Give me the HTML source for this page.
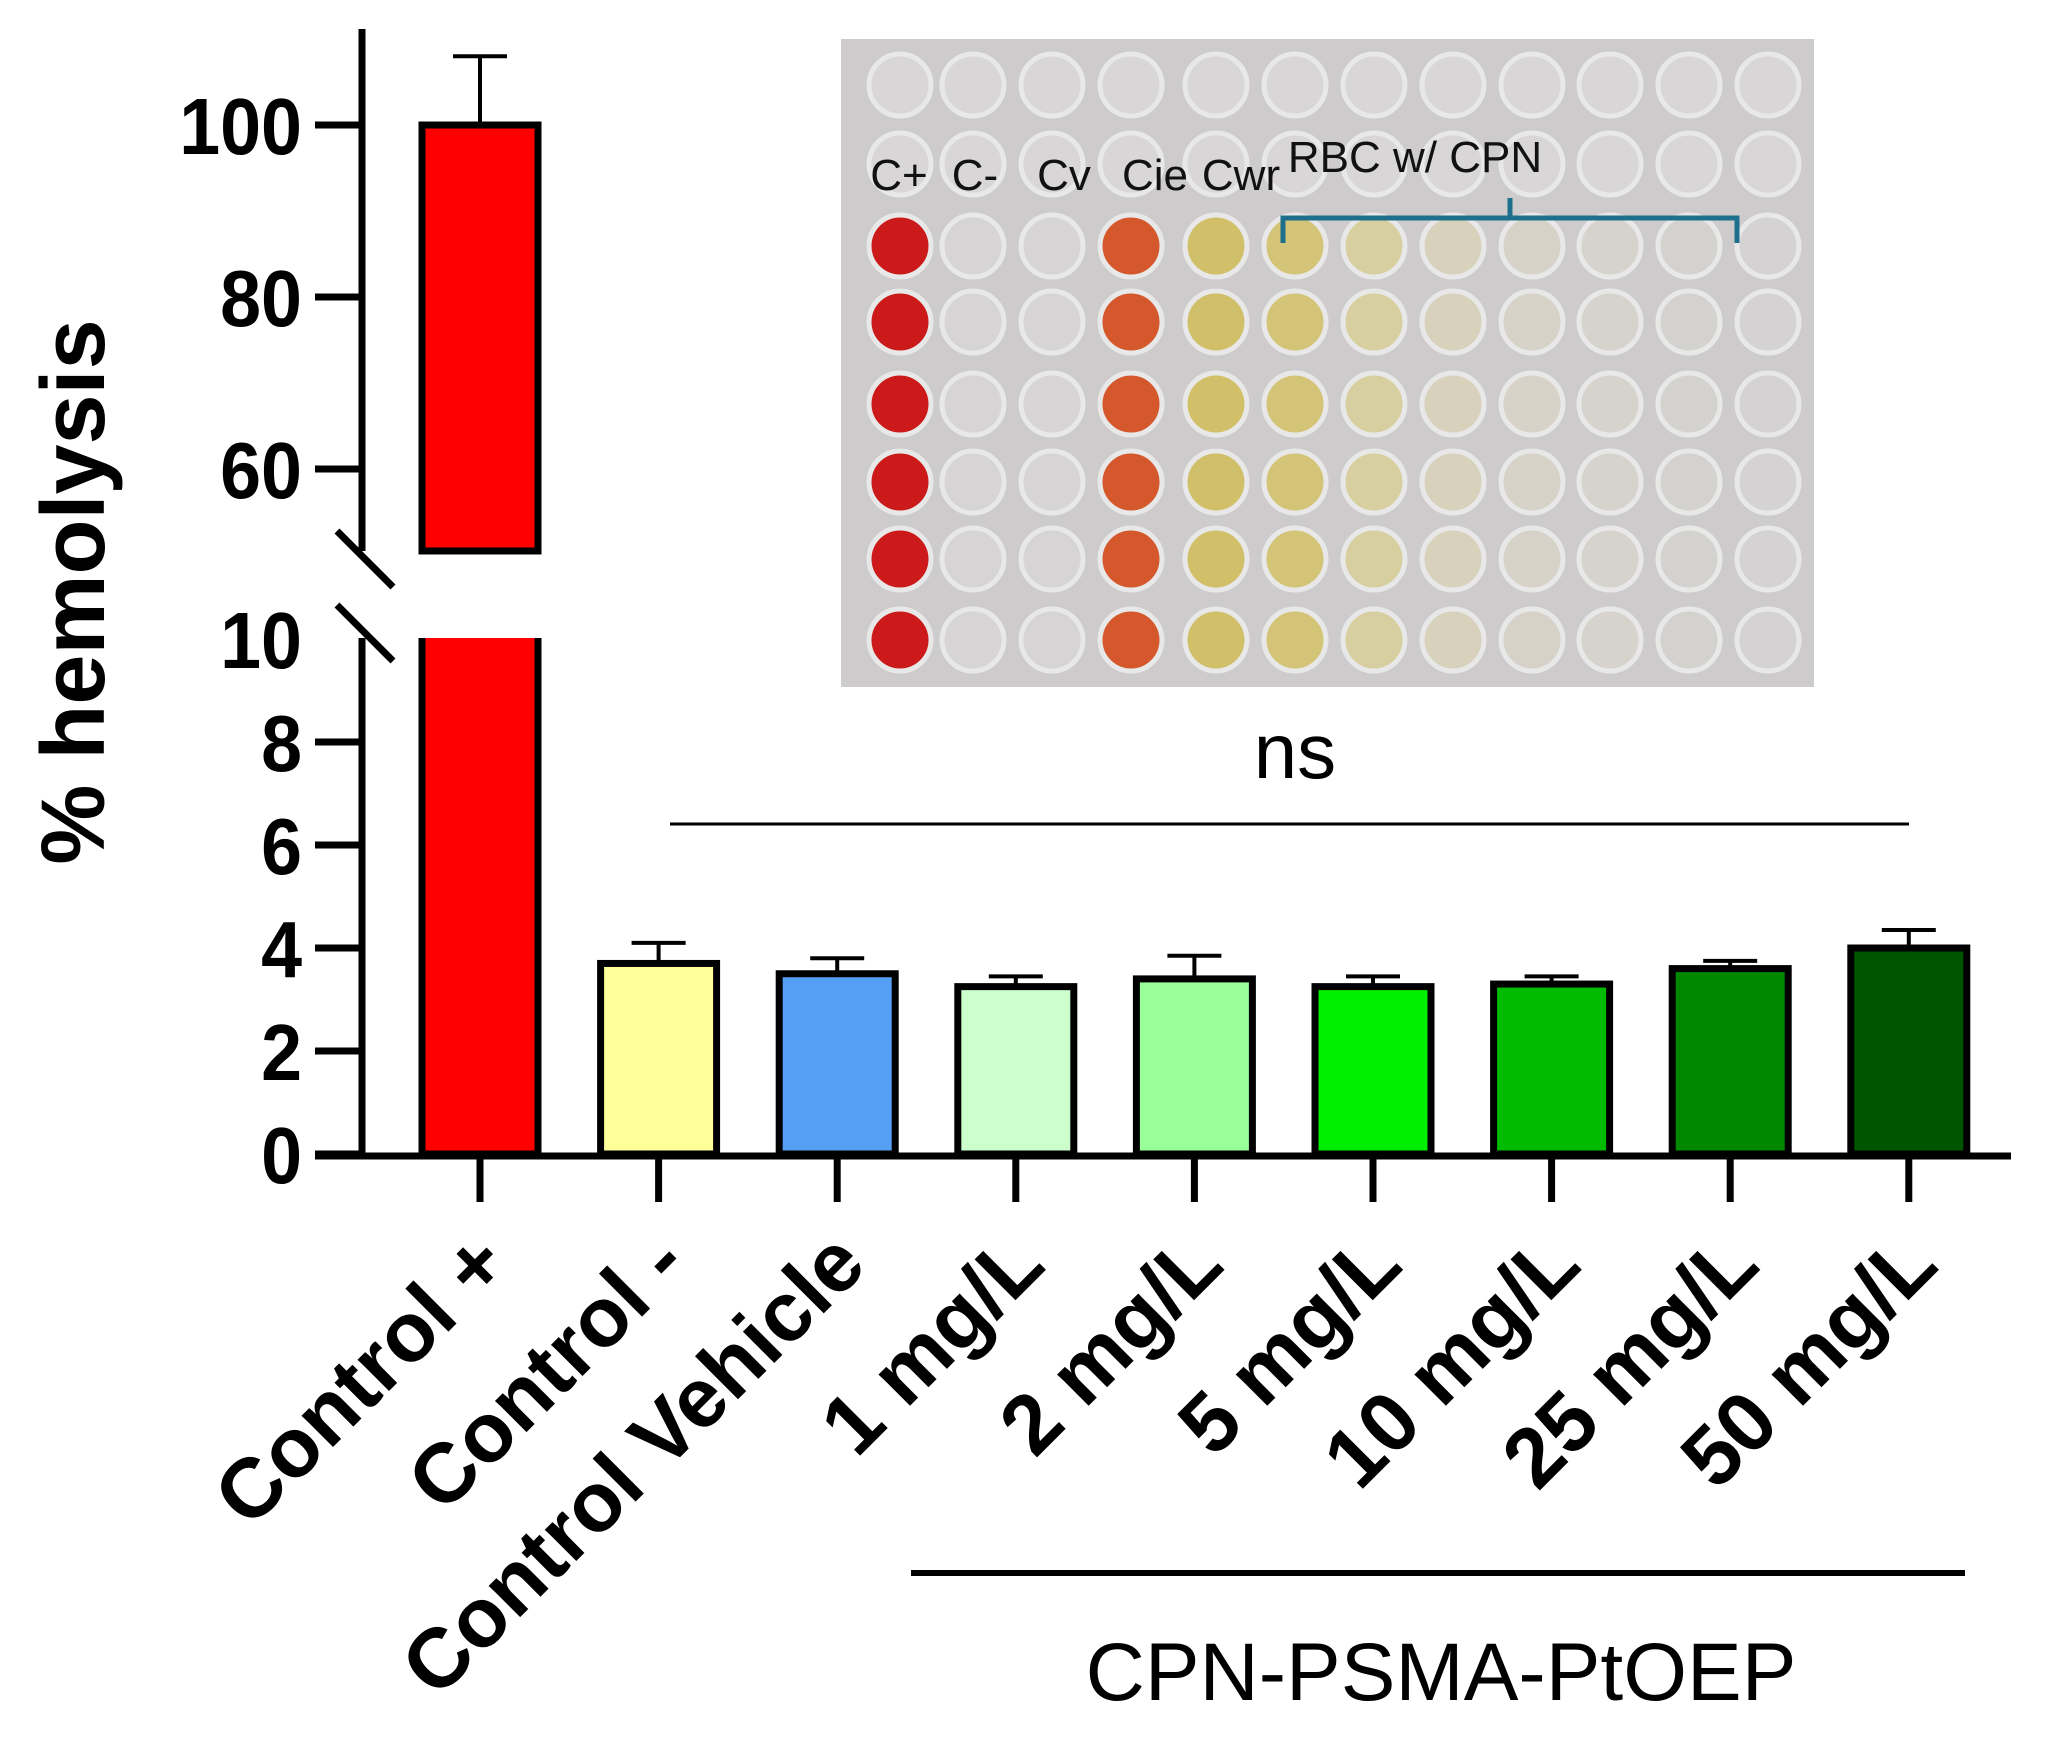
<!DOCTYPE html>
<html><head><meta charset="utf-8"><style>
html,body{margin:0;padding:0;background:#fff;}
svg{display:block;font-family:"Liberation Sans",Arial,sans-serif;}
</style></head><body>
<svg id="chart" width="2061" height="1738" viewBox="0 0 2061 1738" xmlns="http://www.w3.org/2000/svg">
<rect width="2061" height="1738" fill="#fff"/>
<g id="inset"></g>
<g id="axes"></g>
<g id="bars"></g>
<text x="0" y="0" transform="translate(104,592) rotate(-90)" text-anchor="middle" font-size="90" font-weight="bold">% hemolysis</text>
<text x="1295" y="778" text-anchor="middle" font-size="78">ns</text>
<line x1="670" y1="824" x2="1909" y2="824" stroke="#000" stroke-width="3"/>
<line x1="911" y1="1573" x2="1965" y2="1573" stroke="#000" stroke-width="6"/>
<text x="1441" y="1700" text-anchor="middle" font-size="82">CPN-PSMA-PtOEP</text>
</svg>
<script>
const categories = ["Control +","Control -","Control Vehicle","1 mg/L","2 mg/L","5 mg/L","10 mg/L","25 mg/L","50 mg/L"];
const means = [100, 3.7, 3.5, 3.25, 3.4, 3.25, 3.3, 3.6, 4.0];
const errs = [8, 0.4, 0.3, 0.2, 0.45, 0.2, 0.15, 0.15, 0.35];
const colors = ["#ff0000","#ffff99","#55a0f5","#ccffcc","#99ff99","#00ee00","#00bb00","#008800","#005500"];
const lowTicks = [0,2,4,6,8,10];
const highTicks = [60,80,100];

const NS="http://www.w3.org/2000/svg";
function mk(tag,attrs,parent){const e=document.createElementNS(NS,tag);for(const k in attrs)e.setAttribute(k,attrs[k]);parent.appendChild(e);return e;}
const axX=362;
function yLow(v){return 1154 - v*51.5;}
function yHigh(v){return 125 + (100-v)*8.6;}
function yVal(v){return v>10 ? yHigh(v) : yLow(v);}
function xC(i){return 480 + i*178.6;}

const axes=document.getElementById('axes');
let a1=mk('line',{x1:axX,y1:29,x2:axX,y2:551,stroke:'#000','stroke-width':7},axes);


let a2=mk('line',{x1:axX,y1:638,x2:axX,y2:1157,stroke:'#000','stroke-width':7},axes);


let br1=mk('line',{x1:337,y1:531,x2:393,y2:587,stroke:'#000','stroke-width':7},axes);


let br2=mk('line',{x1:337,y1:605,x2:393,y2:661,stroke:'#000','stroke-width':7},axes);


let xa=mk('line',{x1:315,y1:1156,x2:2011,y2:1156,stroke:'#000','stroke-width':7},axes);


function tick(v,y){
  if(v!==10){const t=mk('line',{x1:315,y1:y,x2:axX,y2:y,stroke:'#000','stroke-width':7},axes);
  
  }
  const l=mk('text',{x:0,y:0,'text-anchor':'end','font-size':80,'font-weight':'bold',transform:`translate(302,${y+29}) scale(0.92,1)`},axes);
  l.textContent=v;
  
  
}
lowTicks.forEach(v=>tick(v,yLow(v)));
highTicks.forEach(v=>tick(v,yHigh(v)));

const bars=document.getElementById('bars');
const bw=116;
categories.forEach((c,i)=>{
  const cx=xC(i);
  const top=yVal(means[i]);
  const etop=yVal(means[i]+errs[i]);
  const el=mk('line',{x1:cx,y1:etop,x2:cx,y2:top,stroke:'#000','stroke-width':4},bars);
  
  
  const ec=mk('line',{x1:cx-27,y1:etop,x2:cx+27,y2:etop,stroke:'#000','stroke-width':4},bars);
  
  
  if(means[i]>10){
    const r1=mk('rect',{x:cx-bw/2,y:top,width:bw,height:551-top,fill:colors[i],stroke:'#000','stroke-width':7},bars);
    
    
    const r2=mk('path',{d:`M${cx-bw/2},638 L${cx-bw/2},1154 L${cx+bw/2},1154 L${cx+bw/2},638`,fill:colors[i],stroke:'#000','stroke-width':7},bars);
    
    
  } else {
    const r=mk('rect',{x:cx-bw/2,y:top,width:bw,height:1154-top,fill:colors[i],stroke:'#000','stroke-width':7},bars);
    
    
  }
  const xt=mk('line',{x1:cx,y1:1156,x2:cx,y2:1202,stroke:'#000','stroke-width':7},bars);
  
  
  const lb=mk('text',{x:0,y:0,'text-anchor':'end','font-size':84,'font-weight':'bold',transform:`translate(${cx+32},${1268}) rotate(-45)`},bars);
  lb.textContent=c;
  
  
});

const ins=document.getElementById('inset');
const bg=mk('rect',{x:841,y:39,width:973,height:648,fill:'#cdcbcb'},ins);


const colX=[900,973,1052,1131,1216,1295,1374,1453,1532,1610,1689,1768];
const rowY=[85,164,246,322,404,482,559,640];
const colColors=["#cc1a1a","#d6d4d4","#d6d4d4","#d4582c","#d2bf6a","#d4c478","#d8cfa0","#d8d2bc","#d6d2c8","#d6d2cc","#d4d2cf","#d4d2d2"];
rowY.forEach((y,r)=>{colX.forEach((x,c)=>{
  const fill = r<2 ? '#d8d6d6' : colColors[c];
  const w=mk('circle',{cx:x,cy:y,r:31,fill:fill,stroke:'#e8e8e8','stroke-width':5},ins);
  
  
});});
const lbls=[["C+",899],["C-",975],["Cv",1064],["Cie",1155],["Cwr",1241]];
lbls.forEach(([t,x])=>{const e=mk('text',{x:x,y:190,'text-anchor':'middle','font-size':44,fill:'#111'},ins);e.textContent=t;

});
const rb=mk('text',{x:1415,y:172,'text-anchor':'middle','font-size':44,fill:'#111'},ins);rb.textContent="RBC w/ CPN";


const bk=mk('path',{d:'M1283,243 L1283,218 L1737,218 L1737,243 M1510,218 L1510,198',fill:'none',stroke:'#1e6f8c','stroke-width':5},ins);


</script>
</body></html>
